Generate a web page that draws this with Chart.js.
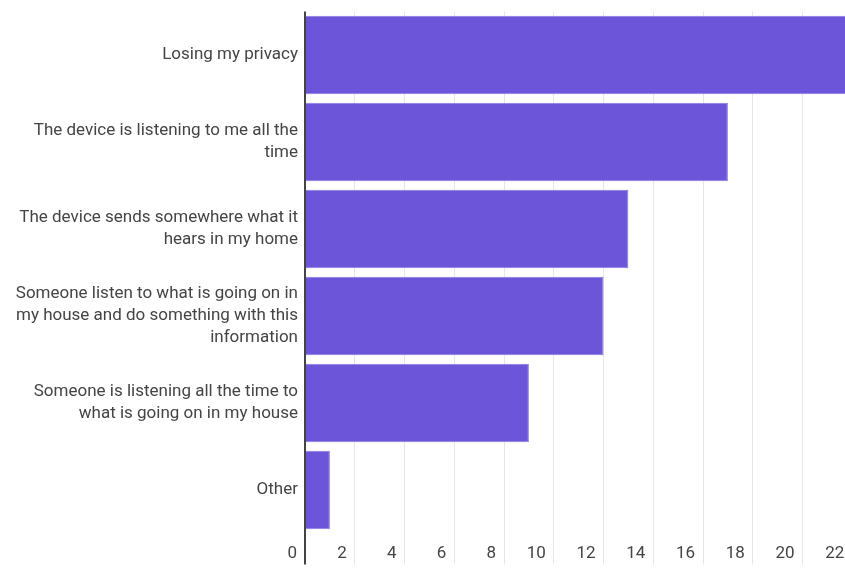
<!DOCTYPE html>
<html>
<head>
<meta charset="utf-8">
<script src="https://cdn.jsdelivr.net/npm/chart.js@4.4.1/dist/chart.umd.min.js"></script>
<style>
  html, body { margin: 0; padding: 0; background: #fff; overflow: hidden; }
  #wrap { width: 902px; height: 568px; }
</style>
</head>
<body>
<div id="wrap"><canvas id="grafico-preocupaciones" width="902" height="568"></canvas></div>
<script>
// respuestas: que le preocupa del asistente de voz
var categorias = [
    "Losing my privacy",
    ["The device is listening to me all the", "time"],
    ["The device sends somewhere what it", "hears in my home"],
    ["Someone listen to what is going on in", "my house and do something with this", "information"],
    ["Someone is listening all the time to", "what is going on in my house"],
    "Other"
];
var respuestas = [22, 17, 13, 12, 9, 1];
var ticksX = [0, 2, 4, 6, 8, 10, 12, 14, 16, 18, 20, 22];

const ctx = document.getElementById("grafico-preocupaciones");
var myChart = new Chart(ctx, {
    type: 'bar',
    data: {
        labels: categorias,
        datasets: [{
            label: 'Respuestas',
            data: respuestas,
            backgroundColor: '#6c55d9',
            borderColor: '#8a78e2',
            borderWidth: 1,
            barPercentage: 0.9,
            categoryPercentage: 1
        }]
    },
    options: {
        indexAxis: 'y',
        responsive: false,
        animation: false,
        layout: { padding: { top: 11.5, right: 0, bottom: 0, left: 0 } },
        plugins: {
            legend: { display: false },
            tooltip: { enabled: false }
        },
        scales: {
            x: {
                min: 0,
                max: 24,
                afterBuildTicks: function (scale) {
                    scale.ticks = ticksX.map(function (v) { return { value: v }; });
                },
                afterFit: function (scale) {
                    scale.height = 34.5;
                    scale.paddingLeft = 0;
                    scale.paddingRight = 0;
                },
                grid: {
                    color: function (c) { return c.tick && c.tick.value === 0 ? '#444444' : '#e6e6e6'; },
                    lineWidth: function (c) { return c.tick && c.tick.value === 0 ? 2 : 1; },
                    tickLength: 31
                },
                border: { display: false },
                ticks: {
                    align: 'end',
                    labelOffset: -8,
                    padding: -21,
                    maxRotation: 0,
                    autoSkip: false,
                    color: '#444444',
                    font: { family: 'Roboto', size: 17 }
                }
            },
            y: {
                afterFit: function (scale) {
                    scale.width = 305;
                    scale.paddingTop = 0;
                    scale.paddingBottom = 0;
                },
                grid: { display: false, tickLength: 0 },
                border: { display: false },
                ticks: {
                    padding: 7,
                    color: '#444444',
                    font: { family: 'Roboto', size: 17, lineHeight: 1.3 }
                }
            }
        }
    }
});
</script>
</body>
</html>
